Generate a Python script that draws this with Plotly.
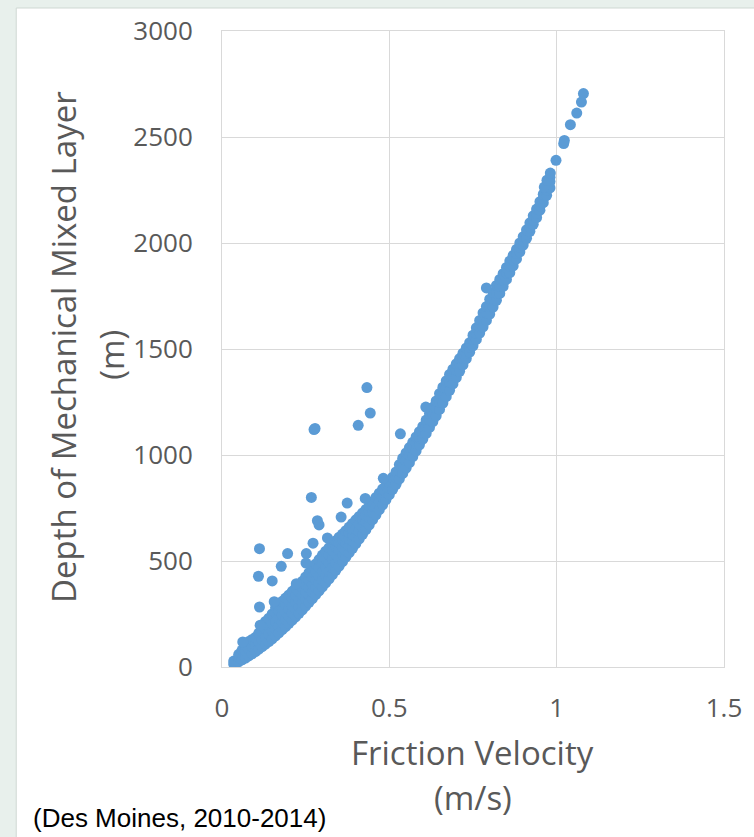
import plotly.graph_objects as go

# ---- data ----
# dense band: column x-values and the depths seen in each column
col_x = [0.035, 0.05, 0.06, 0.07, 0.08, 0.09, 0.10, 0.11, 0.12, 0.13, 0.14, 0.15,
         0.16, 0.17, 0.18, 0.19, 0.20, 0.21, 0.22, 0.23, 0.24, 0.25, 0.26, 0.27,
         0.28, 0.29, 0.30, 0.31, 0.32, 0.33, 0.34, 0.35, 0.36, 0.37, 0.38, 0.39,
         0.40, 0.41, 0.42, 0.43, 0.44, 0.45, 0.46, 0.47, 0.48, 0.49, 0.50, 0.51,
         0.52, 0.53, 0.54, 0.55, 0.56, 0.57, 0.58, 0.59, 0.60, 0.61, 0.62, 0.63,
         0.64, 0.65, 0.66, 0.67, 0.68, 0.69, 0.70, 0.71, 0.72, 0.73, 0.74, 0.75,
         0.76, 0.77, 0.78, 0.79, 0.80, 0.81, 0.82, 0.83, 0.84, 0.85, 0.86, 0.87,
         0.88, 0.89, 0.90, 0.91, 0.92, 0.93, 0.94, 0.95, 0.96, 0.97, 0.98]
col_y = [
    [14, 28], [25, 45, 60], [34, 60, 80], [42, 75, 105], [52, 85, 120],
    [62, 95, 130], [73, 105, 140], [84, 120, 160], [96, 130, 165, 195],
    [108, 140, 180, 215], [120, 155, 190, 230], [133, 170, 205, 250],
    [147, 180, 215, 255, 280], [161, 195, 230, 265, 290], [176, 210, 245, 280, 310],
    [190, 225, 260, 295, 325], [206, 240, 275, 310, 340], [221, 255, 290, 325, 357],
    [237, 270, 305, 340, 372], [253, 285, 320, 355, 388], [270, 305, 340, 375, 404],
    [287, 320, 355, 390, 425], [305, 340, 375, 410, 445], [323, 355, 390, 425, 465],
    [341, 375, 410, 450, 486], [359, 395, 430, 470, 507], [378, 410, 450, 490, 528],
    [397, 430, 470, 510, 546], [416, 450, 490, 530, 563], [436, 470, 510, 550, 580],
    [456, 490, 530, 565, 596], [476, 510, 550, 585, 612], [497, 530, 565, 600, 627],
    [518, 550, 585, 615, 643], [539, 570, 605, 635, 660], [560, 595, 625, 650, 677],
    [582, 615, 650, 694], [604, 640, 675, 710], [626, 660, 695, 727],
    [648, 685, 715, 743], [671, 705, 735, 760], [695, 730, 760, 780],
    [718, 755, 800], [742, 780, 820], [765, 800, 840], [790, 825, 855],
    [813, 845, 870], [838, 870, 895], [862, 895, 920], [888, 925, 955],
    [913, 950, 985], [938, 975, 1010], [964, 1000, 1035], [992, 1030, 1060],
    [1020, 1055, 1085], [1048, 1080, 1110], [1075, 1105, 1135], [1102, 1135, 1165],
    [1130, 1165, 1195], [1158, 1195, 1225], [1185, 1220, 1255], [1215, 1250, 1290],
    [1245, 1285, 1320], [1275, 1315, 1350], [1305, 1345, 1380], [1335, 1375, 1405],
    [1365, 1400, 1430], [1395, 1430, 1455], [1425, 1455, 1480], [1455, 1480, 1505],
    [1485, 1510, 1530], [1515, 1545, 1565], [1545, 1575, 1600], [1575, 1605, 1635],
    [1605, 1640, 1670], [1635, 1670, 1700], [1665, 1700, 1735], [1698, 1735, 1765],
    [1730, 1765, 1800], [1762, 1795, 1828], [1795, 1825, 1855], [1828, 1858, 1885],
    [1860, 1890, 1915], [1892, 1920, 1942], [1925, 1950, 1970], [1958, 1980, 2000],
    [1990, 2010, 2030], [2022, 2042, 2062], [2055, 2075, 2095], [2088, 2108, 2128],
    [2120, 2140, 2160], [2155, 2175, 2195], [2190, 2210, 2230], [2225, 2250, 2270],
    [2260, 2290, 2310]]

# sparse points at the top of the band
top_x = [0.963, 0.971, 0.981, 0.998, 1.021, 1.023, 1.041, 1.060, 1.074, 1.080]
top_y = [2264, 2296, 2330, 2390, 2469, 2484, 2558, 2613, 2665, 2705]

# scattered points above the band
out_x = [0.112, 0.109, 0.150, 0.177, 0.196, 0.112, 0.156, 0.062, 0.114, 0.222,
         0.252, 0.251, 0.272, 0.285, 0.290, 0.315, 0.356, 0.374, 0.267, 0.275,
         0.278, 0.407, 0.433, 0.443, 0.533, 0.428, 0.482, 0.609, 0.790]
out_y = [558, 428, 406, 475, 535, 283, 308, 118, 197, 393,
         535, 490, 584, 690, 670, 609, 707, 773, 800, 1120,
         1125, 1140, 1318, 1198, 1100, 795, 890, 1226, 1788]

x_ticks = [0, 0.5, 1, 1.5]
y_ticks = [0, 500, 1000, 1500, 2000, 2500, 3000]

# ---- assemble ----
xs, ys = [], []
for cx, cys in zip(col_x, col_y):
    for cy in cys:
        xs.append(cx)
        ys.append(cy)
xs += top_x + out_x
ys += top_y + out_y

BLUE = "#5B9BD5"
GRAY = "#595959"
GRID = "#d9d9d9"

fig = go.Figure()
fig.add_trace(go.Scatter(x=xs, y=ys, mode="markers",
                         marker=dict(color=BLUE, size=11, line=dict(width=0)),
                         showlegend=False, hoverinfo="skip"))

W, H = 754, 837
L, R, T, B = 222, 27, 31, 170
pw, ph = W - L - R, H - T - B

def px(xp):
    return (xp - L) / pw

def py(yp):
    return (H - B - yp) / ph

fig.update_layout(
    width=W, height=H,
    margin=dict(l=L, r=R, t=T, b=B),
    paper_bgcolor="#e8f0ec",
    plot_bgcolor="white",
    font=dict(family="Open Sans", color=GRAY),
    xaxis=dict(range=[0, 1.5], tickvals=x_ticks, ticktext=[f"{v:g}" for v in x_ticks],
               showgrid=True, gridcolor=GRID, gridwidth=1, zeroline=False,
               showline=True, linecolor=GRID, linewidth=1, mirror=True,
               ticks="", tickfont=dict(size=26, color=GRAY), ticklabelstandoff=18),
    yaxis=dict(range=[0, 3000], tickvals=y_ticks, ticktext=[str(v) for v in y_ticks],
               showgrid=True, gridcolor=GRID, gridwidth=1, zeroline=False,
               showline=True, linecolor=GRID, linewidth=1, mirror=True,
               ticks="", tickfont=dict(size=26, color=GRAY), ticklabelstandoff=23),
    shapes=[dict(type="rect", xref="paper", yref="paper", layer="below",
                 x0=px(15), x1=px(760), y0=py(845), y1=py(8),
                 fillcolor="white", line=dict(color="#cfd8d3", width=1))],
    annotations=[
        dict(text="Friction Velocity", xref="paper", yref="paper", x=px(474), y=py(752),
             xanchor="center", yanchor="middle", showarrow=False,
             font=dict(size=33, color=GRAY)),
        dict(text="(m/s)", xref="paper", yref="paper", x=px(474), y=py(797),
             xanchor="center", yanchor="middle", showarrow=False,
             font=dict(size=33, color=GRAY)),
        dict(text="Depth of Mechanical Mixed Layer", xref="paper", yref="paper",
             x=px(62), y=py(347), xanchor="center", yanchor="middle", textangle=-90,
             showarrow=False, font=dict(size=33, color=GRAY)),
        dict(text="(m)", xref="paper", yref="paper",
             x=px(110), y=py(355), xanchor="center", yanchor="middle", textangle=-90,
             showarrow=False, font=dict(size=33, color=GRAY)),
        dict(text="(Des Moines, 2010-2014)", xref="paper", yref="paper",
             x=px(30), y=py(818), xanchor="left", yanchor="middle", showarrow=False,
             font=dict(size=26, color="black", family="Liberation Sans")),
    ],
)

fig.write_html("out.html",
               config={"displayModeBar": False},
               post_script="document.body.style.margin='0';"
                           "document.body.style.overflow='hidden';")
